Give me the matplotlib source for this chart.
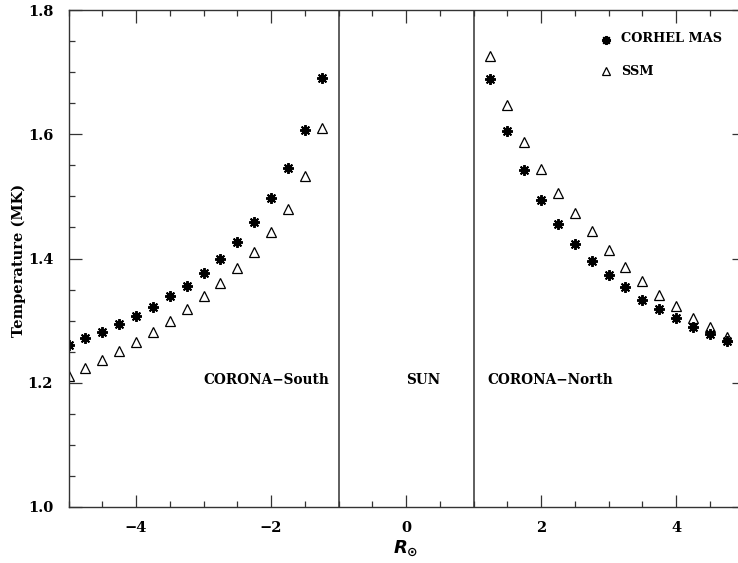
import numpy as np
import matplotlib.pyplot as plt

# radial distance (solar radii), south side negative
r_south = [-5.0, -4.75, -4.5, -4.25, -4.0, -3.75, -3.5, -3.25,
           -3.0, -2.75, -2.5, -2.25, -2.0, -1.75, -1.5, -1.25]
r_north = [1.25, 1.5, 1.75, 2.0, 2.25, 2.5, 2.75, 3.0,
           3.25, 3.5, 3.75, 4.0, 4.25, 4.5, 4.75]

# temperature (MK)
mas_south = [1.261, 1.272, 1.282, 1.295, 1.308, 1.322, 1.339, 1.356,
             1.377, 1.400, 1.427, 1.459, 1.498, 1.545, 1.607, 1.691]
ssm_south = [1.211, 1.223, 1.237, 1.251, 1.266, 1.282, 1.299, 1.318,
             1.340, 1.361, 1.384, 1.410, 1.442, 1.479, 1.532, 1.610]
mas_north = [1.689, 1.605, 1.542, 1.494, 1.456, 1.423, 1.396, 1.373,
             1.354, 1.334, 1.318, 1.304, 1.290, 1.278, 1.268]
ssm_north = [1.726, 1.647, 1.587, 1.544, 1.505, 1.474, 1.445, 1.414,
             1.387, 1.363, 1.341, 1.324, 1.305, 1.289, 1.273]

plt.rcParams['font.family'] = 'DejaVu Serif'
plt.rcParams['font.weight'] = 'bold'
plt.rcParams['font.size'] = 10.5

fig = plt.figure(figsize=(7.38, 5.63), dpi=100)
ax = fig.add_axes([68.5 / 738, 1 - 507 / 563, 675 / 738, 497 / 563])


def asterisk(x, y, size=7.8):
    # IDL-style asterisk: spokes plus a filled core
    ax.plot(x, y, marker=(8, 2, 0), ms=size, mew=1.4, color='black', ls='none')
    ax.plot(x, y, marker='s', ms=size * 0.6, mew=0, color='black', ls='none')


tri = dict(marker='^', ms=7.5, mew=0.9, mfc='none', mec='black', ls='none')

asterisk(r_south, mas_south)
asterisk(r_north, mas_north)
ax.plot(r_south, ssm_south, **tri)
ax.plot(r_north, ssm_north, **tri)

# solar disk boundaries
ax.axvline(-1, color='#333333', lw=1.1)
ax.axvline(1, color='#333333', lw=1.1)

ax.text(-3.0, 1.198, 'CORONA\u2212South', ha='left', va='baseline', fontsize=9.8)
ax.text(0.0, 1.198, 'SUN', ha='left', va='baseline', fontsize=9.8)
ax.text(1.2, 1.198, 'CORONA\u2212North', ha='left', va='baseline', fontsize=9.8)

# legend drawn by hand
asterisk([2.96], [1.7517], size=6.5)
ax.plot([2.96], [1.7018], marker='^', ms=6, mew=0.9, mfc='none', mec='black')
ax.text(3.19, 1.7485, 'CORHEL MAS', ha='left', va='baseline', fontsize=9.3)
ax.text(3.19, 1.6954, 'SSM', ha='left', va='baseline', fontsize=9.3)

ax.set_xlim(-5, 5)
ax.set_ylim(1.0, 1.8)
ax.set_xticks([-4, -2, 0, 2, 4])
ax.set_xticks(np.arange(-5, 5.01, 0.5), minor=True)
ax.set_xticklabels(['\u22124', '\u22122', '0', '2', '4'])
ax.set_yticks([1.0, 1.2, 1.4, 1.6, 1.8])
ax.set_yticks(np.arange(1.0, 1.801, 0.05), minor=True)
ax.set_yticklabels(['1.0', '1.2', '1.4', '1.6', '1.8'])

ax.tick_params(which='both', direction='in', top=True, right=True,
               color='#333333', width=0.9)
ax.tick_params(which='major', length=9)
ax.tick_params(which='minor', length=4.5)
ax.tick_params(axis='x', pad=10)
ax.tick_params(axis='y', pad=11)
for s in ax.spines.values():
    s.set_color('#333333')
    s.set_linewidth(1.0)

fig.text(406 / 738, 1 - 549 / 563, r'$R_{\odot}$', ha='center', va='center',
         fontsize=13)
fig.text(19 / 738, 1 - 260 / 563, 'Temperature (MK)', rotation=90,
         ha='center', va='center')

fig.savefig('out.png', dpi=100)
